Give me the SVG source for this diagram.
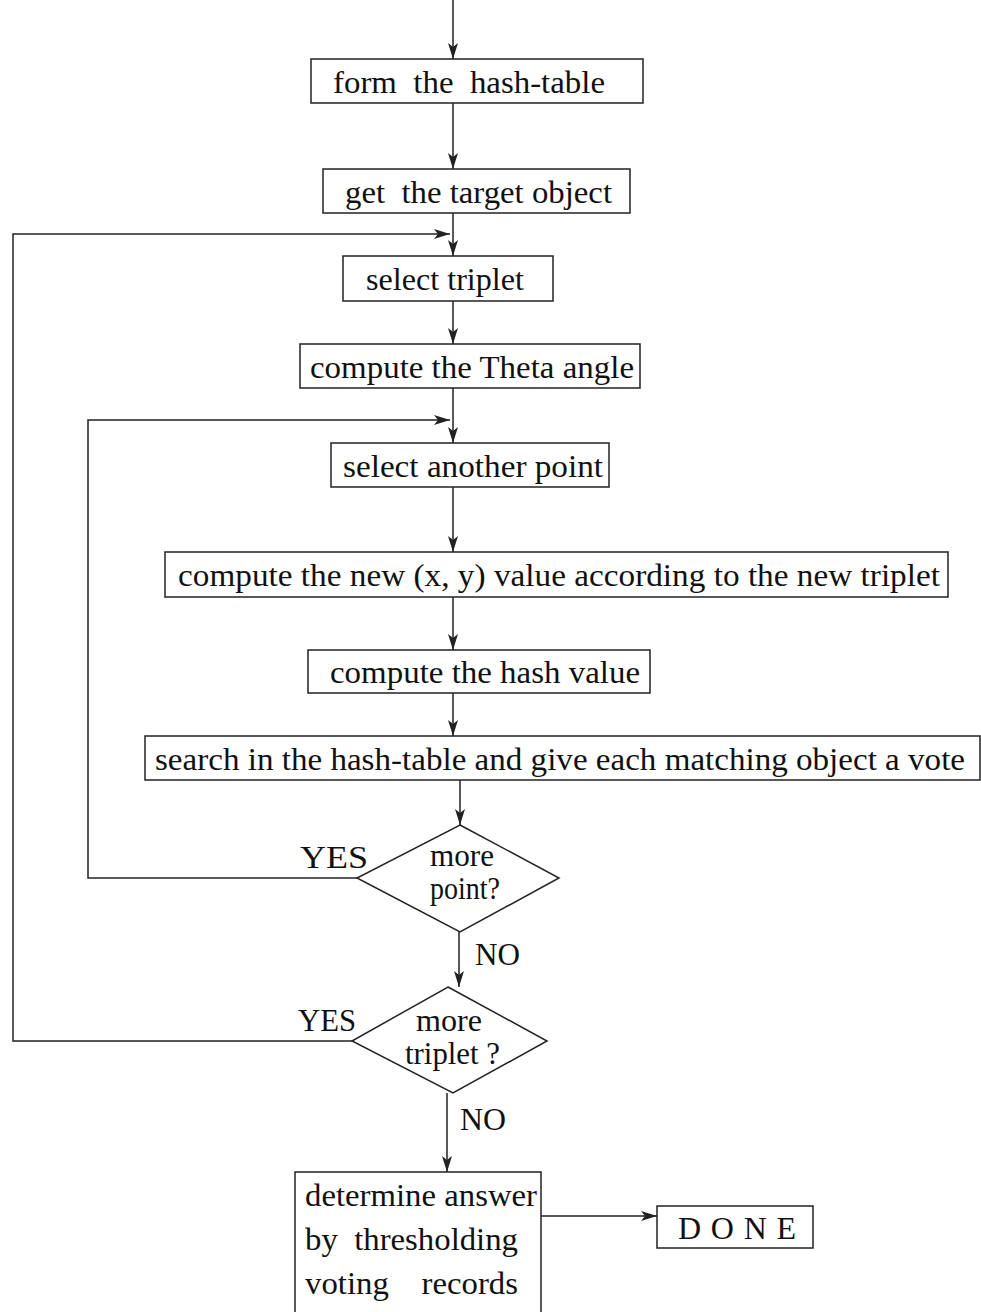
<svg xmlns="http://www.w3.org/2000/svg" width="981" height="1312" viewBox="0 0 981 1312">
<defs>
<style>
.box{fill:#fff;stroke:#222;stroke-width:1.5}
.ln{fill:none;stroke:#222;stroke-width:1.5}
text{font-family:"Liberation Serif","Times New Roman",serif;font-size:32px;fill:#111;white-space:pre}
</style>
<marker id="ah" viewBox="0 0 16 10" refX="16" refY="5" markerWidth="16" markerHeight="10" markerUnits="userSpaceOnUse" orient="auto">
<path d="M0,0 L16,5 L0,10 L4,5 Z" fill="#222"/>
</marker>
</defs>
<rect width="981" height="1312" fill="#fff"/>
<g id="connectors">
<path class="ln" d="M453,0 V59" marker-end="url(#ah)"/>
<path class="ln" d="M453,103 V169" marker-end="url(#ah)"/>
<path class="ln" d="M453,213 V256" marker-end="url(#ah)"/>
<path class="ln" d="M352,1041 H13 V234 H450" marker-end="url(#ah)"/>
<path class="ln" d="M453,301 V344" marker-end="url(#ah)"/>
<path class="ln" d="M453,388 V443" marker-end="url(#ah)"/>
<path class="ln" d="M357,878 H88 V420 H450" marker-end="url(#ah)"/>
<path class="ln" d="M453,487 V552" marker-end="url(#ah)"/>
<path class="ln" d="M453,597 V650" marker-end="url(#ah)"/>
<path class="ln" d="M453,693 V736" marker-end="url(#ah)"/>
<path class="ln" d="M460,780 V825" marker-end="url(#ah)"/>
<path class="ln" d="M459,932 V987" marker-end="url(#ah)"/>
<path class="ln" d="M447,1093 V1172" marker-end="url(#ah)"/>
<path class="ln" d="M541,1216 H657" marker-end="url(#ah)"/>
<text x="300" y="868" textLength="68" lengthAdjust="spacingAndGlyphs">YES</text>
<text x="475" y="965" textLength="45" lengthAdjust="spacingAndGlyphs">NO</text>
<text x="298" y="1031" textLength="58" lengthAdjust="spacingAndGlyphs">YES</text>
<text x="460" y="1130" textLength="46" lengthAdjust="spacingAndGlyphs">NO</text>
</g>
<g id="n1"><rect class="box" x="311" y="59" width="332" height="44"/><text x="333" y="93" textLength="272" lengthAdjust="spacingAndGlyphs">form  the  hash-table</text></g>
<g id="n2"><rect class="box" x="323" y="169" width="307" height="44"/><text x="345" y="203" textLength="267" lengthAdjust="spacingAndGlyphs">get  the target object</text></g>
<g id="n3"><rect class="box" x="343" y="256" width="210" height="45"/><text x="366" y="290" textLength="158" lengthAdjust="spacingAndGlyphs">select triplet</text></g>
<g id="n4"><rect class="box" x="300" y="344" width="340" height="44"/><text x="310" y="378" textLength="324" lengthAdjust="spacingAndGlyphs">compute the Theta angle</text></g>
<g id="n5"><rect class="box" x="331" y="443" width="278" height="44"/><text x="343" y="477" textLength="260" lengthAdjust="spacingAndGlyphs">select another point</text></g>
<g id="n6"><rect class="box" x="165" y="552" width="783" height="45"/><text x="178" y="586" textLength="762" lengthAdjust="spacingAndGlyphs">compute the new (x, y) value according to the new triplet</text></g>
<g id="n7"><rect class="box" x="308" y="650" width="342" height="43"/><text x="330" y="683" textLength="310" lengthAdjust="spacingAndGlyphs">compute the hash value</text></g>
<g id="n8"><rect class="box" x="145" y="736" width="835" height="44"/><text x="155" y="770" textLength="810" lengthAdjust="spacingAndGlyphs">search in the hash-table and give each matching object a vote</text></g>
<g id="n9"><polygon class="box" points="460,825 559,878 460,932 357,878"/><text x="430" y="866" textLength="64" lengthAdjust="spacingAndGlyphs">more</text><text x="430" y="899" textLength="70" lengthAdjust="spacingAndGlyphs">point?</text></g>
<g id="n10"><polygon class="box" points="448,987 547,1041 453,1093 352,1041"/><text x="416" y="1031" textLength="66" lengthAdjust="spacingAndGlyphs">more</text><text x="405" y="1064" textLength="95" lengthAdjust="spacingAndGlyphs">triplet ?</text></g>
<g id="n11"><rect class="box" x="295" y="1172" width="246" height="145"/><text x="305" y="1206" textLength="232" lengthAdjust="spacingAndGlyphs">determine answer</text><text x="305" y="1250" textLength="213" lengthAdjust="spacingAndGlyphs">by  thresholding</text><text x="305" y="1294" textLength="213" lengthAdjust="spacingAndGlyphs">voting    records</text></g>
<g id="n12"><rect class="box" x="657" y="1206" width="156" height="42"/><text x="678" y="1239" textLength="118" lengthAdjust="spacing">D O N E</text></g>
</svg>
